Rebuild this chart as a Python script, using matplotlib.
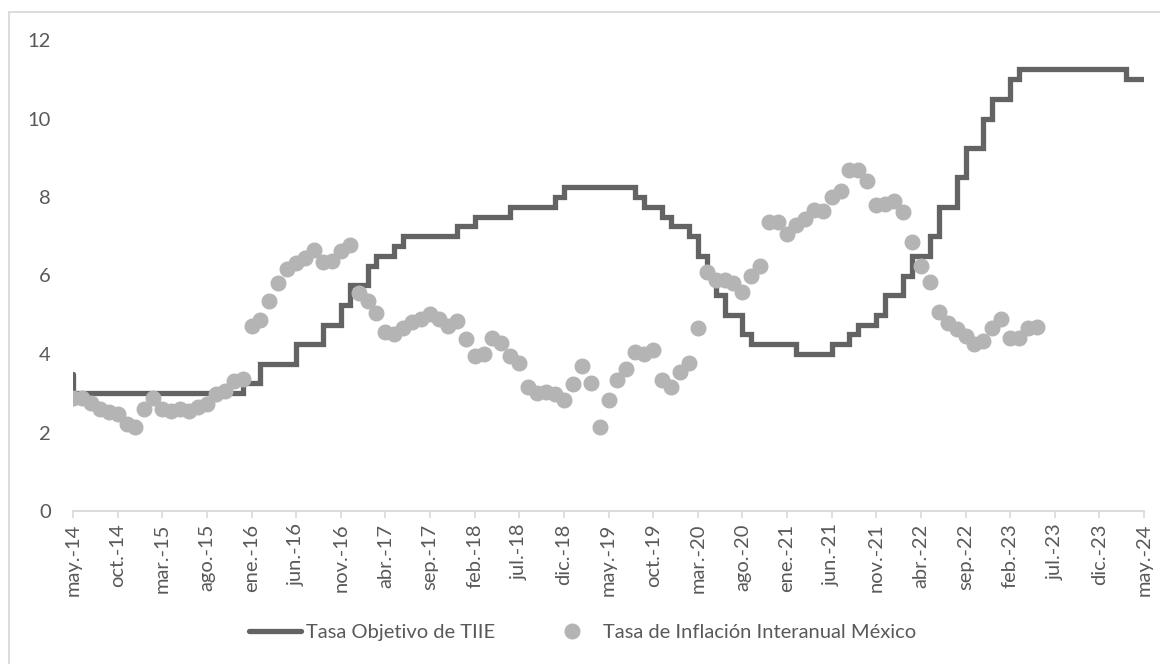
import matplotlib
matplotlib.use("Agg")
from matplotlib import pyplot as plt
from matplotlib.lines import Line2D
from matplotlib.patches import Rectangle

plt.rcParams['font.family'] = ['Lato', 'DejaVu Sans']

# Tasa objetivo: month where each level starts, and the level
tiie_start = ['2014-05', '2014-05', '2015-12', '2016-02', '2016-06', '2016-09', '2016-11',
              '2016-12', '2017-02', '2017-03', '2017-05', '2017-06', '2017-12', '2018-02',
              '2018-06', '2018-11', '2018-12', '2019-08', '2019-09', '2019-11', '2019-12',
              '2020-02', '2020-03', '2020-04', '2020-05', '2020-06', '2020-08', '2020-09',
              '2021-02', '2021-06', '2021-08', '2021-09', '2021-11', '2021-12', '2022-02',
              '2022-03', '2022-05', '2022-06', '2022-08', '2022-09', '2022-11', '2022-12',
              '2023-02', '2023-03', '2024-03', '2024-05']
tiie_rate = [3.50, 3.00, 3.25, 3.75, 4.25, 4.75, 5.25,
             5.75, 6.25, 6.50, 6.75, 7.00, 7.25, 7.50,
             7.75, 8.00, 8.25, 8.00, 7.75, 7.50, 7.25,
             7.00, 6.50, 6.00, 5.50, 5.00, 4.50, 4.25,
             4.00, 4.25, 4.50, 4.75, 5.00, 5.50, 6.00,
             6.50, 7.00, 7.75, 8.50, 9.25, 10.00, 10.50,
             11.00, 11.25, 11.00, 11.00]

# inflacion interanual, one point per month starting at the first category
infl_start = '2014-05'
inflacion = [2.88, 2.87, 2.74, 2.59, 2.52, 2.48, 2.21, 2.13, 2.61, 2.87, 2.60, 2.54,
             2.60, 2.54, 2.65, 2.73, 2.97, 3.06, 3.31, 3.36, 4.72, 4.86, 5.35, 5.82,
             6.16, 6.31, 6.44, 6.66, 6.35, 6.37, 6.63, 6.77, 5.55, 5.34, 5.04, 4.55,
             4.51, 4.65, 4.81, 4.90, 5.02, 4.90, 4.72, 4.83, 4.37, 3.94, 4.00, 4.41,
             4.28, 3.95, 3.78, 3.16, 3.00, 3.02, 2.97, 2.83, 3.24, 3.70, 3.25, 2.15,
             2.84, 3.33, 3.62, 4.05, 4.01, 4.09, 3.33, 3.15, 3.54, 3.76, 4.67, 6.08,
             5.89, 5.88, 5.81, 5.59, 6.00, 6.24, 7.37, 7.36, 7.07, 7.28, 7.45, 7.68,
             7.65, 7.99, 8.15, 8.70, 8.70, 8.41, 7.80, 7.82, 7.91, 7.62, 6.85, 6.25,
             5.84, 5.06, 4.79, 4.64, 4.45, 4.26, 4.32, 4.66, 4.88, 4.40, 4.42, 4.65,
             4.69]

tick_labels = ['may.-14', 'oct.-14', 'mar.-15', 'ago.-15', 'ene.-16', 'jun.-16', 'nov.-16',
               'abr.-17', 'sep.-17', 'feb.-18', 'jul.-18', 'dic.-18', 'may.-19', 'oct.-19',
               'mar.-20', 'ago.-20', 'ene.-21', 'jun.-21', 'nov.-21', 'abr.-22', 'sep.-22',
               'feb.-23', 'jul.-23', 'dic.-23', 'may.-24']


def month_index(s, origin='2014-05'):
    y, m = map(int, s.split('-'))
    y0, m0 = map(int, origin.split('-'))
    return (y - y0) * 12 + (m - m0)


tiie_x = [month_index(s) for s in tiie_start]
i0 = month_index(infl_start)
infl_x = [i0 + i for i in range(len(inflacion))]

fs = 14.5
fig = plt.figure(figsize=(11.6, 6.64), dpi=100)
ax = fig.add_axes([73 / 1160, 153 / 664, 1071 / 1160, 471 / 664])

ax.plot(tiie_x, tiie_rate, drawstyle='steps-post', color='#636363', lw=3.8,
        solid_joinstyle='miter', solid_capstyle='round', zorder=2)
ax.plot(infl_x, inflacion, ls='none', marker='o', ms=10.5, mfc='#b4b4b4', mec='#b4b4b4',
        zorder=3)

ax.set_xlim(0, 120)
ax.set_ylim(0, 12)
ax.set_xticks(range(0, 121, 5))
ax.set_xticklabels(tick_labels, rotation=90, fontsize=fs, color='#595959')
ax.set_yticks(range(0, 13, 2))
ax.tick_params(axis='y', length=0, pad=16, labelsize=fs, labelcolor='#595959')
ax.tick_params(axis='x', length=5, width=1.2, color='#d9d9d9', pad=4)
for s in ['top', 'right', 'left']:
    ax.spines[s].set_visible(False)
ax.spines['bottom'].set_color('#d9d9d9')
ax.spines['bottom'].set_linewidth(1.3)

handles = [Line2D([], [], color='#636363', lw=3.8, solid_capstyle='round'),
           Line2D([], [], ls='none', marker='o', ms=10.5, mfc='#b4b4b4', mec='#b4b4b4')]
fig.legend(handles, ['Tasa Objetivo de TIIE', 'Tasa de Inflación Interanual México'],
           loc='center', bbox_to_anchor=(0.502, 0.047), ncol=2, frameon=False,
           fontsize=fs, labelcolor='#595959', handlelength=2.6, handletextpad=0.25,
           columnspacing=2.5)

# chart area border (only left and top edges fall inside the picture)
fig.patches.append(Rectangle((9 / 1160, -0.1), 1.2, (664 - 12) / 664 + 0.1,
                             transform=fig.transFigure, fill=False,
                             edgecolor='#d9d9d9', lw=1.3))

fig.savefig('out.png', dpi=100)
